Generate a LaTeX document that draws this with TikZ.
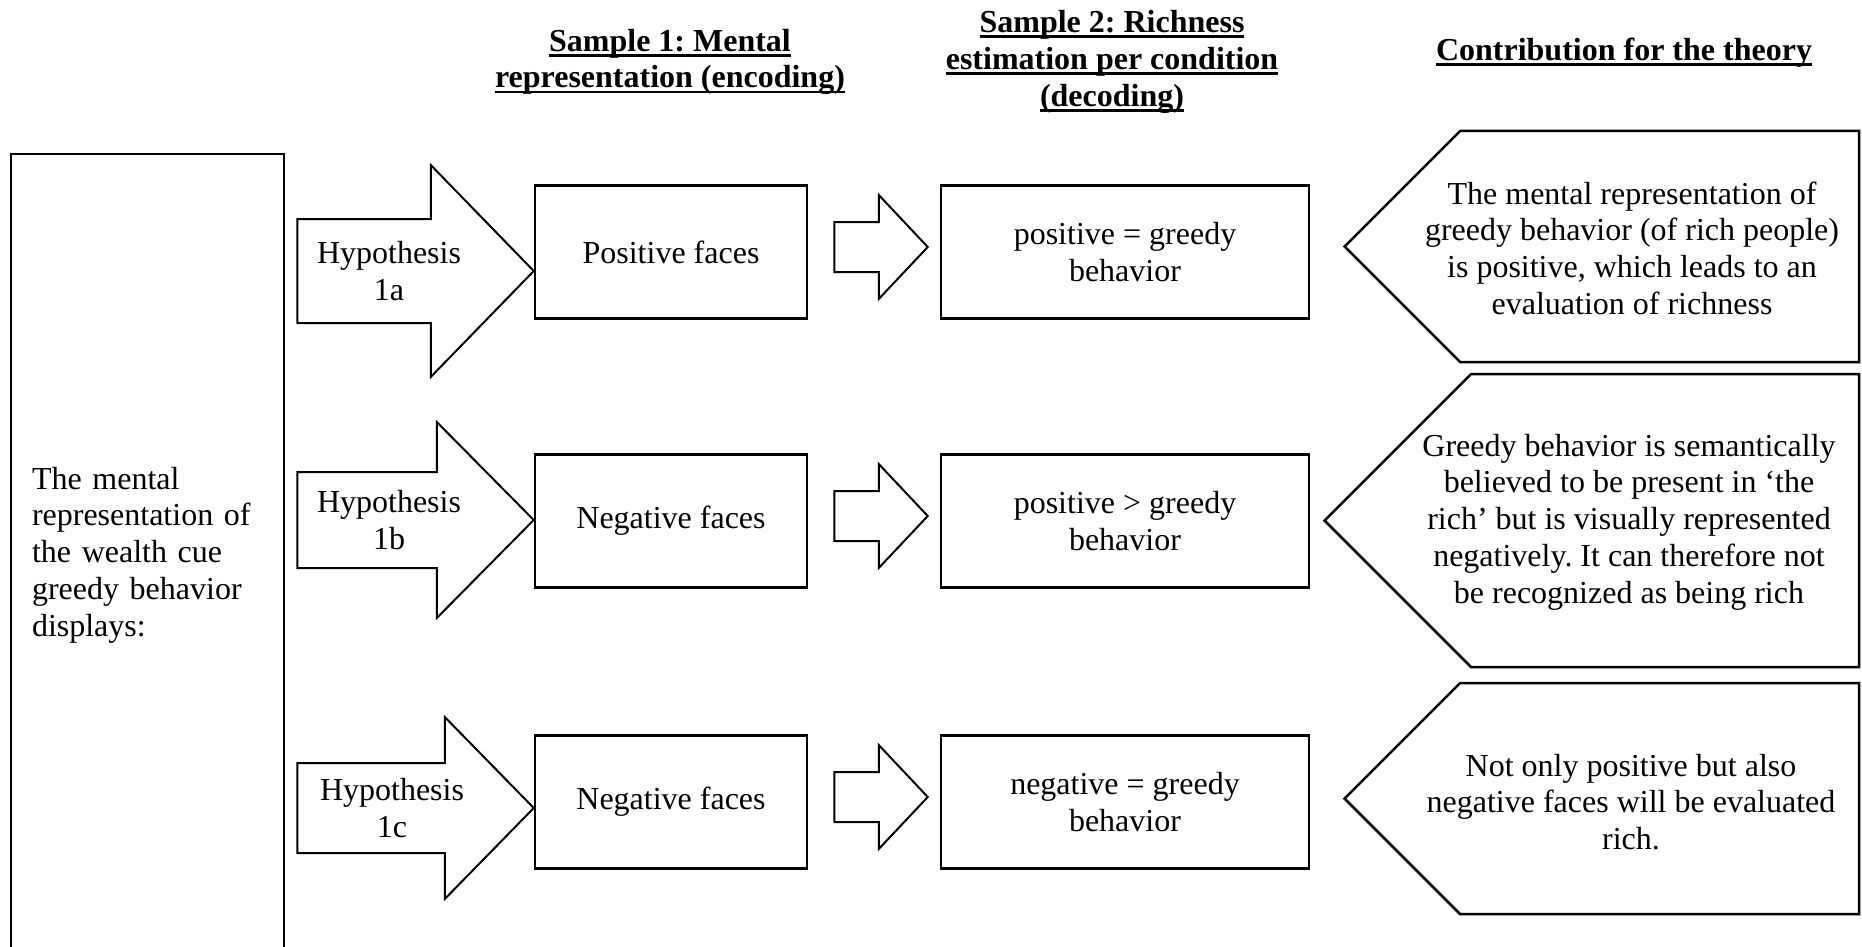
\documentclass[tikz,border=0pt]{standalone}
\usepackage{fontspec}
\setmainfont{Liberation Serif}
\usetikzlibrary{calc}
\frenchspacing

\newsavebox{\hdbox}
\newcommand{\hdline}[1]{\sbox{\hdbox}{#1}\rlap{\rule[-5.4pt]{\wd\hdbox}{2.8pt}}\usebox{\hdbox}}

\tikzset{
  facebox/.style={draw,line width=2.5pt,minimum width=272pt,minimum height=133pt,align=center},
  decbox/.style={draw,line width=2.5pt,minimum width=368pt,minimum height=133pt,align=center},
  colhead/.style={align=center,font=\fontsize{32}{36.7}\selectfont\bfseries},
  blockarrow/.style={draw,line width=2pt,line join=miter},
  thyframe/.style={draw,line width=2.5pt,line join=miter}
}

\begin{document}
\begin{tikzpicture}[x=1pt,y=-1pt,font=\fontsize{32}{36.7}\selectfont]
\useasboundingbox (0,0) rectangle (1862,947);

% column headings
\node[colhead] (head1) at (670,62) {\hdline{Sample 1: Mental}\\\hdline{representation (encoding)}};
\node[colhead] (head2) at (1112,62) {\hdline{Sample 2: Richness}\\\hdline{estimation per condition}\\\hdline{(decoding)}};
\node[colhead] (head3) at (1624,53) {\hdline{Contribution for the theory}};

% wealth cue
\node[draw,line width=2.5pt,minimum width=273pt,minimum height=802pt,text width=231pt,inner xsep=21pt,align=left] (cue) at (147.5,555)
  {The mental\\representation of\\the wealth cue\\greedy behavior\\displays:};

% hypotheses
\node[align=center] (hypA) at (389,271) {Hypothesis\\1a};
\node[align=center] (hypB) at (389,520) {Hypothesis\\1b};
\node[align=center] (hypC) at (392,808) {Hypothesis\\1c};

% encoding
\node[facebox] (faceA) at (671,252) {Positive faces};
\node[facebox] (faceB) at (671,521) {Negative faces};
\node[facebox] (faceC) at (671,802) {Negative faces};

% decoding
\node[decbox] (decA) at (1125,252) {positive = greedy\\behavior};
\node[decbox] (decB) at (1125,521) {positive > greedy\\behavior};
\node[decbox] (decC) at (1125,802) {negative = greedy\\behavior};

% theory
\node[align=center] (thyA) at (1632,248) {The mental representation of\\greedy behavior (of rich people)\\is positive, which leads to an\\evaluation of richness};
\node[align=center] (thyB) at (1629,522) {Greedy behavior is semantically\\believed to be present in ‘the\\rich’ but is visually represented\\negatively. It can therefore not\\be recognized as being rich};
\node[align=center] (thyC) at (1631,802) {Not only positive but also\\negative faces will be evaluated\\rich.};

% hypothesis arrows
\foreach \r/\sh/\hh/\hl in {A/52/106/103,B/48/98/97,C/45/91/89}
  \draw[blockarrow] ($(cue.east |- hyp\r)+(12,-\sh)$) -- ($(face\r.west |- hyp\r)+(-\hl,-\sh)$) -- ++(0,\sh-\hh)
    -- (face\r.west |- hyp\r) -- ++(-\hl,\hh) -- ++(0,\sh-\hh) -- ($(cue.east |- hyp\r)+(12,\sh)$) -- cycle;

% encoding -> decoding
\foreach \r in {A,B,C}
  \draw[blockarrow] ($(face\r.east)+(26,-30)$) -- ($(dec\r.west)+(-61,-30)$) -- ++(0,-27)
    -- ($(dec\r.west)+(-12,-5)$) -- ++(-49,52) -- ++(0,-27) -- ($(face\r.east)+(26,20)$) -- cycle;

% theory frames
\foreach \ya/\yb/\xp in {131/362/1460,374/667/1471,683/914/1460}
  \draw[thyframe] (1859,\ya) -- (\xp,\ya) -- ({\xp-(\yb-\ya)/2},{(\ya+\yb)/2}) -- (\xp,\yb) -- (1859,\yb) -- cycle;
\end{tikzpicture}
\end{document}
